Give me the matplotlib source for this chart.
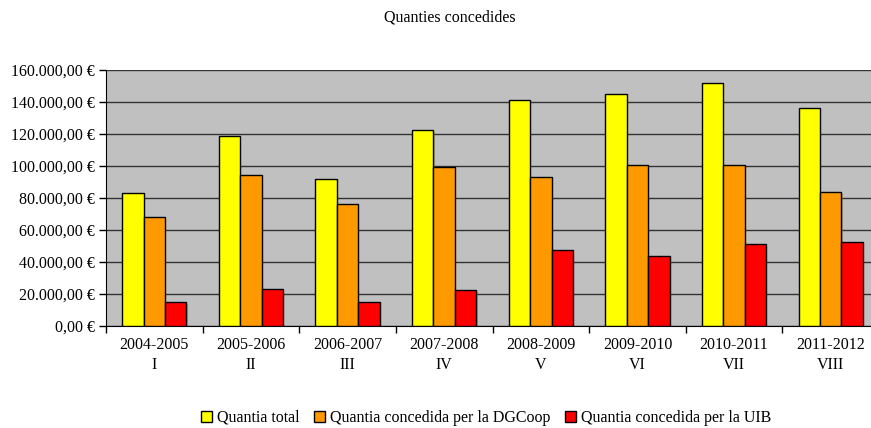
import numpy as np
import matplotlib.pyplot as plt
from matplotlib.ticker import FuncFormatter, FixedLocator

plt.rcParams['font.family'] = ['Liberation Serif', 'DejaVu Serif']

# dades
cursos = ['2004-2005', '2005-2006', '2006-2007', '2007-2008',
          '2008-2009', '2009-2010', '2010-2011', '2011-2012']
romans = ['I', 'II', 'III', 'IV', 'V', 'VI', 'VII', 'VIII']
quantia_total = [83300, 118500, 91900, 122700, 141500, 144800, 152000, 136500]
quantia_dgcoop = [68300, 94200, 76300, 99600, 93300, 100800, 100800, 83500]
quantia_uib = [15200, 23300, 15200, 22300, 47700, 43500, 51000, 52300]

series = [(quantia_total, '#FFFF00', 'Quantia total'),
          (quantia_dgcoop, '#FF9900', 'Quantia concedida per la DGCoop'),
          (quantia_uib, '#FF0000', 'Quantia concedida per la UIB')]

FS = 11.5
W, H = 871, 428
fig = plt.figure(figsize=(W / 100, H / 100), dpi=100)
# plot area runs past the right edge of the image, as in the original
ax = fig.add_axes([106 / W, 1 - 326 / H, (879 - 106) / W, (326 - 70) / H])
ax.set_facecolor('#C0C0C0')

x = np.arange(len(cursos))
bw = 0.222
for i, (vals, col, lab) in enumerate(series):
    # little shadow behind each bar
    ax.bar(x + (i - 1) * bw + 0.012, vals, bw, bottom=-1200, color='#7a7a7a',
           alpha=0.5, linewidth=0, zorder=2)
    ax.bar(x + (i - 1) * bw, vals, bw, color=col, edgecolor='black',
           linewidth=1.0, label=lab, zorder=3)

ax.set_xlim(-0.5, len(cursos) - 0.5)
ax.set_ylim(0, 160000)
ax.set_yticks(np.arange(0, 160001, 20000))
ax.yaxis.set_major_formatter(FuncFormatter(
    lambda v, p: '{:,.2f} €'.format(v).replace(',', 'X').replace('.', ',').replace('X', '.')))
ax.grid(axis='y', color='#333333', linewidth=1.0, zorder=1)

ax.xaxis.set_major_locator(FixedLocator(np.arange(-0.5, len(cursos), 1)))
ax.xaxis.set_minor_locator(FixedLocator(x))
ax.set_xticklabels([])
ax.set_xticklabels([c + '\n' + r for c, r in zip(cursos, romans)], minor=True)
ax.tick_params(axis='x', which='major', length=5, direction='out', width=1)
ax.tick_params(axis='x', which='minor', length=0, pad=8, labelsize=FS)
ax.tick_params(axis='y', length=5, direction='out', width=1, labelsize=FS, pad=3)
for lbl in ax.get_xticklabels(minor=True):
    lbl.set_linespacing(1.35)

for s in ['top', 'right']:
    ax.spines[s].set_visible(False)
ax.spines['left'].set_color('black')
ax.spines['bottom'].set_color('black')

fig.text(450 / W, 1 - 18 / H, 'Quanties concedides', ha='center', va='center', fontsize=FS)

h, l = ax.get_legend_handles_labels()
fig.legend(h, l, loc='center', bbox_to_anchor=(486 / W, 1 - 418 / H), ncol=3,
           frameon=False, fontsize=FS, handlelength=0.7, handleheight=0.7,
           handletextpad=0.3, columnspacing=0.9)

fig.savefig('out.png', dpi=100)
